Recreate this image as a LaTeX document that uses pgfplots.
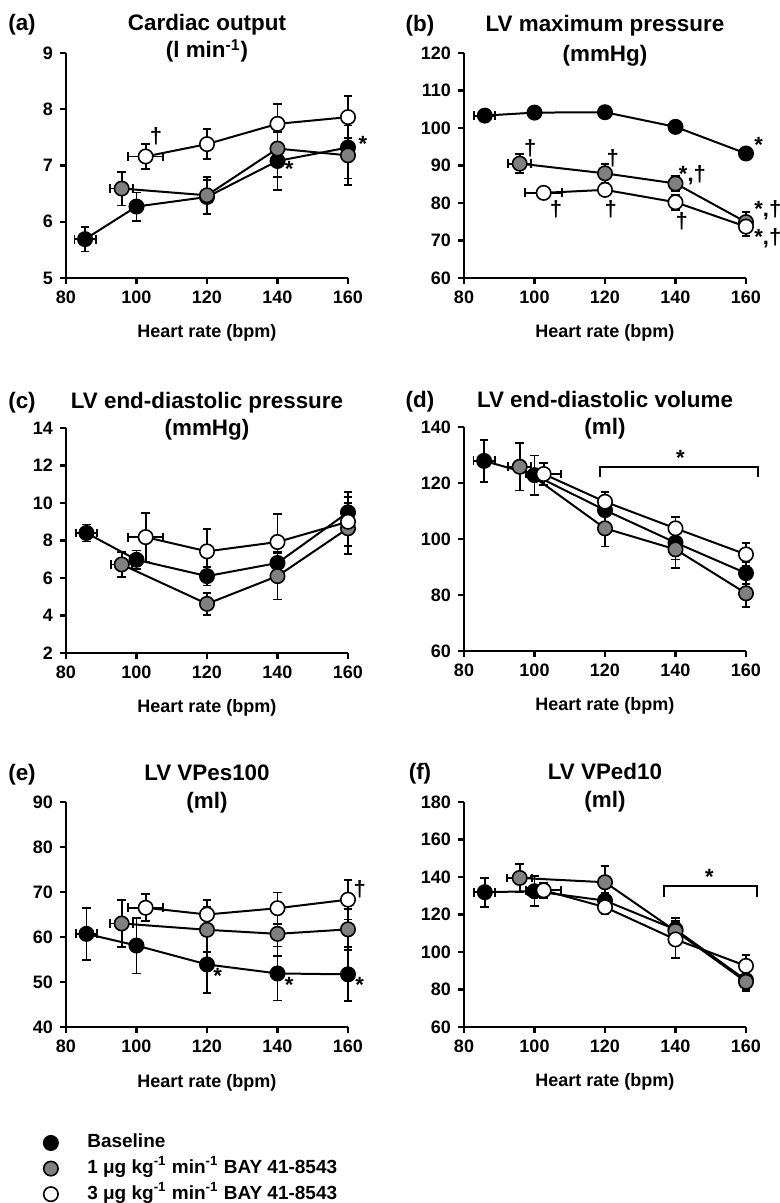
\documentclass[border=0pt]{standalone}
\usepackage{fontspec}
\setmainfont{Liberation Sans}
\usepackage{pgfplots}
\pgfplotsset{compat=1.18}
\definecolor{midgray}{RGB}{128,128,128}

\newcommand{\tfont}{\fontsize{11.2}{13}\selectfont\bfseries}
\newcommand{\afont}{\fontsize{11}{12}\selectfont\bfseries}

\pgfplotsset{
  panel/.style={
    scale only axis, width=141pt, height=112.5pt,
    xmin=80, xmax=160, xtick={80,100,...,160},
    axis lines=left,
    axis line style={-, line width=1.2pt},
    every non boxed x axis/.append style={x axis line style=-},
    every non boxed y axis/.append style={y axis line style=-},
    tick align=outside,
    major tick length=3pt,
    tick style={line width=1.2pt, black},
    tick label style={font=\fontsize{9}{10}\selectfont\bfseries},
    /pgf/number format/assume math mode=true,
    xlabel={Heart rate (bpm)},
    xlabel style={font=\fontsize{9}{10}\selectfont\bfseries, at={(axis description cs:0.5,0)}, anchor=base, yshift=-30pt},
    clip=false,
  },
  ser/.style={black, line width=1pt, mark=*, mark size=3.6pt,
    mark options={draw=black, line width=0.8pt, fill=#1},
    error bars/x dir=both, error bars/x explicit,
    error bars/y dir=both, error bars/y explicit,
    error bars/error bar style={line width=0.9pt, black},
    error bars/error mark=-,
    error bars/error mark options={rotate=90, line width=0.9pt, mark size=2.2pt, black}},
}

% title macro: label, line1, line2, shift1, shift2
\newcommand{\ptitle}[5]{%
  \node[font=\tfont, anchor=base, inner sep=0pt] at (rel axis cs:0.5,1) [yshift=#4] {#2};
  \node[font=\tfont, anchor=base, inner sep=0pt] at (rel axis cs:0.5,1) [yshift=#5] {#3};
  \node[font=\tfont, anchor=base, inner sep=0pt] at (rel axis cs:0,1) [xshift=-22pt, yshift=#4] {#1};
}

\begin{document}
\begin{tikzpicture}
\useasboundingbox (0,0) rectangle (390pt,601.5pt);

% ---------------- (a) ----------------
\begin{axis}[panel, at={(33pt,462.5pt)}, anchor=south west,
  ymin=5, ymax=9, ytick={5,6,7,8,9}]
\addplot[ser=black] table[x=x,y=y,x error=ex,y error=ey]{
x y ex ey
85.4 5.69 3 0.22
100 6.27 1 0.25
120 6.44 0 0.30
140 7.08 0 0.52
160 7.32 0 0.55
};
\addplot[ser=midgray] table[x=x,y=y,x error=ex,y error=ey]{
x y ex ey
95.8 6.59 3.3 0.30
120 6.47 0 0.33
140 7.30 0 0.50
160 7.18 0 0.53
};
\addplot[ser=white] table[x=x,y=y,x error=ex,y error=ey]{
x y ex ey
102.6 7.16 5 0.22
120 7.38 0 0.27
140 7.74 0 0.36
160 7.86 0 0.37
};
\ptitle{(a)}{Cardiac output}{(l min\textsuperscript{-1})}{11pt}{-2.5pt}
\node[font=\afont] at (axis cs:105.5,7.52) {†};
\node[font=\afont] at (axis cs:143.3,6.93) {*};
\node[font=\afont] at (axis cs:164.2,7.38) {*};
\end{axis}

% ---------------- (b) ----------------
\begin{axis}[panel, at={(232pt,462.5pt)}, anchor=south west,
  ymin=60, ymax=120, ytick={60,70,...,120}]
\addplot[ser=black] table[x=x,y=y,x error=ex,y error=ey]{
x y ex ey
85.9 103.3 3 1.5
100 104.1 1.5 1.2
120 104.2 0 1.0
140 100.3 0 1.2
160 93.2 0 1.0
};
\addplot[ser=midgray] table[x=x,y=y,x error=ex,y error=ey]{
x y ex ey
95.8 90.5 3.3 2.5
120 87.9 0 2.5
140 85.2 0 2.0
160 74.9 0 2.8
};
\addplot[ser=white] table[x=x,y=y,x error=ex,y error=ey]{
x y ex ey
102.6 82.7 5.3 1.0
120 83.5 0 1.5
140 80.2 0 2.0
160 73.7 0 2.5
};
\ptitle{(b)}{LV maximum pressure}{(mmHg)}{10.5pt}{-4.5pt}
\node[font=\afont] at (axis cs:163.6,95.5) {*};
\node[font=\afont] at (axis cs:98.8,94.6) {†};
\node[font=\afont] at (axis cs:122.2,91.8) {†};
\node[font=\afont] at (axis cs:144.8,87.5) {*,†};
\node[font=\afont] at (axis cs:106.1,78.2) {†};
\node[font=\afont] at (axis cs:121.6,78.2) {†};
\node[font=\afont] at (axis cs:141.8,75.1) {†};
\node[font=\afont] at (axis cs:166.2,78.0) {*,†};
\node[font=\afont] at (axis cs:166.2,70.7) {*,†};
\end{axis}

% ---------------- (c) ----------------
\begin{axis}[panel, at={(33pt,275pt)}, anchor=south west,
  ymin=2, ymax=14, ytick={2,4,...,14}]
\addplot[ser=black] table[x=x,y=y,x error=ex,y error=ey]{
x y ex ey
85.8 8.40 3 0.45
100 6.97 1.5 0.50
120 6.10 0 0.50
140 6.80 0 0.60
160 9.50 0 1.10
};
\addplot[ser=midgray] table[x=x,y=y,x error=ex,y error=ey]{
x y ex ey
95.8 6.72 3 0.65
120 4.62 0 0.60
140 6.10 0 1.25
160 8.65 0 1.35
};
\addplot[ser=white] table[x=x,y=y,x error=ex,y error=ey]{
x y ex ey
102.6 8.18 5 1.30
120 7.42 0 1.20
140 7.92 0 1.50
160 9.00 0 1.30
};
\ptitle{(c)}{LV end-diastolic pressure}{(mmHg)}{9.5pt}{-4pt}
\end{axis}

% ---------------- (d) ----------------
\begin{axis}[panel, at={(232pt,276pt)}, anchor=south west, height=112pt,
  ymin=60, ymax=140, ytick={60,80,...,140}]
\addplot[ser=black] table[x=x,y=y,x error=ex,y error=ey]{
x y ex ey
85.7 127.9 3 7.5
100 122.8 1.5 7.0
120 110.3 0 5.0
140 98.7 0 6.0
160 87.8 0 4.0
};
\addplot[ser=midgray] table[x=x,y=y,x error=ex,y error=ey]{
x y ex ey
95.8 125.8 3.3 8.5
120 103.8 0 6.5
140 96.3 0 6.8
160 80.6 0 5.0
};
\addplot[ser=white] table[x=x,y=y,x error=ex,y error=ey]{
x y ex ey
102.6 123.2 5 4.0
120 113.3 0 3.5
140 103.8 0 4.0
160 94.5 0 4.0
};
\addplot[black, line width=1pt, mark=none, forget plot] coordinates {(118.5,122.2) (118.5,125.8) (163.5,125.8) (163.5,122.2)};
\node[font=\afont] at (axis cs:141.4,129.0) {*};
\ptitle{(d)}{LV end-diastolic volume}{(ml)}{9.5pt}{-4pt}
\end{axis}

% ---------------- (e) ----------------
\begin{axis}[panel, at={(33pt,88pt)}, anchor=south west,
  ymin=40, ymax=90, ytick={40,50,...,90},
  legend style={at={(-0.138,-0.447)}, anchor=north west, draw=none, fill=none,
    font=\fontsize{9.5}{11}\selectfont\bfseries, row sep=1.8pt,
    nodes={inner sep=1pt, text height=7pt, text depth=2pt}},
  legend cell align=left,
  legend image code/.code={\path (0pt,0pt) (25.5pt,0pt); \draw[#1] plot coordinates {(8.5pt,0pt)};},
]
\addplot[ser=black, forget plot] table[x=x,y=y,x error=ex,y error=ey]{
x y ex ey
85.8 60.7 3 5.8
100 58.1 1.5 6.2
120 53.9 0 6.3
140 51.9 0 6.0
160 51.7 0 6.0
};
\addplot[ser=midgray, forget plot] table[x=x,y=y,x error=ex,y error=ey]{
x y ex ey
95.8 63.0 3.3 5.3
120 61.6 0 5.0
140 60.7 0 5.0
160 61.7 0 4.5
};
\addplot[ser=white, forget plot] table[x=x,y=y,x error=ex,y error=ey]{
x y ex ey
102.6 66.5 5 3.0
120 65.0 0 3.2
140 66.4 0 3.5
160 68.3 0 4.4
};
\addlegendimage{black, mark=*, mark size=3.6pt, mark options={draw=black, line width=0.8pt, fill=black}}
\addlegendentry{Baseline}
\addlegendimage{black, mark=*, mark size=3.6pt, mark options={draw=black, line width=0.8pt, fill=midgray}}
\addlegendentry{1 μg kg\textsuperscript{-1} min\textsuperscript{-1} BAY 41-8543}
\addlegendimage{black, mark=*, mark size=3.6pt, mark options={draw=black, line width=0.8pt, fill=white}}
\addlegendentry{3 μg kg\textsuperscript{-1} min\textsuperscript{-1} BAY 41-8543}
\ptitle{(e)}{LV VPes100}{(ml)}{11pt}{-3pt}
\node[font=\afont] at (axis cs:123.0,51.4) {*};
\node[font=\afont] at (axis cs:143.3,49.3) {*};
\node[font=\afont] at (axis cs:163.3,49.3) {*};
\node[font=\afont] at (axis cs:163.3,70.7) {†};
\end{axis}

% ---------------- (f) ----------------
\begin{axis}[panel, at={(232pt,88pt)}, anchor=south west,
  ymin=60, ymax=180, ytick={60,80,...,180}]
\addplot[ser=black] table[x=x,y=y,x error=ex,y error=ey]{
x y ex ey
85.9 131.9 3 7.7
100 132.4 2 8.0
120 127.4 0 4.0
140 112.0 0 6.0
160 85.0 0 5.0
};
\addplot[ser=midgray] table[x=x,y=y,x error=ex,y error=ey]{
x y ex ey
95.8 139.5 3.5 7.5
120 137.2 0 8.5
140 111.2 0 5.0
160 84.1 0 5.0
};
\addplot[ser=white] table[x=x,y=y,x error=ex,y error=ey]{
x y ex ey
102.6 132.9 5 4.0
120 123.9 0 3.5
140 106.7 0 10.0
160 92.6 0 6.0
};
\addplot[black, line width=1pt, mark=none, forget plot] coordinates {(136.7,129.2) (136.7,135) (163,135) (163,129.2)};
\node[font=\afont] at (axis cs:149.6,140.0) {*};
\ptitle{(f)}{LV VPed10}{(ml)}{11pt}{-3pt}
\end{axis}
\end{tikzpicture}
\end{document}
